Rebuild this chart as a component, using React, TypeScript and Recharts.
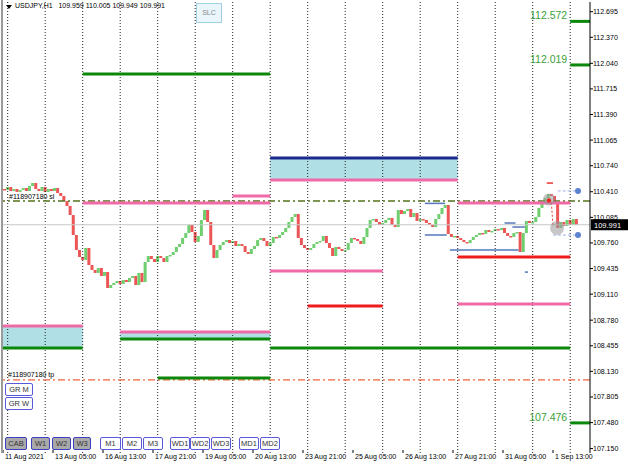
import React from "react";
import {
  ComposedChart,
  Bar,
  XAxis,
  YAxis,
  ReferenceLine,
  ReferenceArea,
  ReferenceDot,
} from "recharts";

// H1 closes, one value per 2 hourly bars
const firstOpen = 110.445;
const closes = [
  110.432, 110.47, 110.419, 110.445, 110.407, 110.432, 110.457, 110.419, 110.483, 110.521,
  110.445, 110.419, 110.47, 110.407, 110.445, 110.419, 110.457, 110.394, 110.356, 110.292,
  110.229, 110.115, 109.861, 109.671, 109.582, 109.544, 109.696, 109.48, 109.417, 109.379,
  109.442, 109.341, 109.391, 109.188, 109.226, 109.252, 109.277, 109.239, 109.29, 109.264,
  109.315, 109.341, 109.226, 109.379, 109.264, 109.518, 109.594, 109.556, 109.518, 109.594,
  109.569, 109.518, 109.594, 109.607, 109.645, 109.709, 109.747, 109.823, 109.886, 109.988,
  109.899, 109.772, 109.848, 110.051, 110.178, 110.026, 109.734, 109.569, 109.671, 109.734,
  109.772, 109.797, 109.759, 109.785, 109.721, 109.747, 109.721, 109.645, 109.62, 109.683,
  109.721, 109.797, 109.823, 109.785, 109.721, 109.759, 109.836, 109.823, 109.861, 109.899,
  109.95, 110.026, 110.089, 110.127, 109.823, 109.734, 109.696, 109.671, 109.696, 109.747,
  109.772, 109.785, 109.848, 109.759, 109.696, 109.594, 109.709, 109.683, 109.658, 109.671,
  109.759, 109.823, 109.81, 109.785, 109.747, 109.836, 109.95, 110.051, 110.064, 110.026,
  109.988, 110.013, 110.051, 110.077, 109.988, 109.962, 110.178, 110.127, 110.165, 110.191,
  110.089, 110.14, 110.039, 110.064, 110.051, 110.013, 109.988, 109.962, 110.064, 110.127,
  110.204, 110.242, 109.874, 109.836, 109.848, 109.823, 109.797, 109.772, 109.759, 109.797,
  109.836, 109.861, 109.886, 109.874, 109.924, 109.899, 109.912, 109.937, 109.924, 109.95,
  109.886, 109.848, 109.836, 109.886, 109.899, 109.645, 109.886, 110.039, 110.013, 110.026,
  110.089, 110.204, 110.254, 110.33, 110.381, 110.356, 110.267, 109.95, 110.026, 109.975,
  110.051, 109.988, 110.064, 109.991,
];

const priceTicks = [
  112.695, 112.37, 112.04, 111.715, 111.39, 111.065, 110.74, 110.41, 110.085,
  109.76, 109.435, 109.11, 108.78, 108.455, 108.13, 107.805, 107.48, 107.15,
];
const timeTicks = [0, 32, 64, 96, 128, 160, 192, 224, 256, 288, 320, 352];
const timeLabels = [
  "11 Aug 2021", "13 Aug 05:00", "16 Aug 13:00", "17 Aug 21:00", "19 Aug 05:00", "20 Aug 13:00",
  "23 Aug 21:00", "25 Aug 05:00", "26 Aug 13:00", "27 Aug 21:00", "31 Aug 05:00", "1 Sep 13:00",
];
const dayStarts = [3, 27, 51, 75, 99, 123, 147, 171, 195, 219, 243, 267, 291, 315, 339, 363];
const lastBar = 375.68;

// levels: [price, from bar, to bar]
const greenLevels = [
  [111.904, 51, 171], [108.427, 0, 51], [108.541, 75, 171], [108.427, 171, 363], [108.046, 99, 171],
];
const pinkLevels = [
  [110.559, 171, 291], [110.356, 147, 171], [110.267, 51, 171], [110.267, 291, 363],
  [109.404, 171, 243], [108.985, 291, 363], [108.706, 0, 51], [108.63, 75, 171],
];
const redLevels = [[109.582, 291, 363], [108.96, 195, 243]];
const navyLevels = [[110.838, 171, 291]];
// zones: [low, high, from, to]
const zones = [[110.559, 110.838, 171, 291], [108.427, 108.706, 0, 51], [108.541, 108.63, 75, 171]];
const targets = [112.572, 112.019, 107.476];
const slPrice = 110.292;
const tpPrice = 108.021;
const bid = 109.991;
const orderLines = [
  [110.262, 270, 283], [109.861, 270, 284], [109.671, 286, 330],
  [110.013, 321, 328], [109.962, 326, 334], [109.39, 334, 336],
];
const markers = [[368, 110.42], [368, 109.86]];
const highlights = [[349.4, 110.31, 6], [354.6, 109.95, 7]];

const candles = closes.map((c, i) => {
  const o = i === 0 ? firstOpen : closes[i - 1];
  return { bar: 1 + 2 * i, open: o, close: c, body: [Math.min(o, c), Math.max(o, c)] };
});

const FONT = "'Liberation Sans', Arial, sans-serif";

const Candle = (props: any) => {
  const { x, y, width, height, payload } = props;
  const top = height < 0 ? y + height : y;
  const h = Math.max(Math.abs(height), 1.5);
  const up = payload.close >= payload.open;
  return <rect x={x} y={top} width={width} height={h} fill={up ? "#6fcf6f" : "#ec5656"} />;
};

const TimeTick = (props: any) => {
  const { x, y, payload } = props;
  const i = timeTicks.indexOf(payload.value);
  return (
    <g>
      <line x1={x} x2={x} y1={y - 3} y2={y} stroke="#000" />
      <text x={x + 2} y={y + 6} fontSize={7} fontFamily={FONT} fill="#000">
        {timeLabels[i]}
      </text>
    </g>
  );
};

function seg(p: number, a: number, b: number): any {
  return [{ x: a, y: p }, { x: b, y: p }];
}

const btnBase: React.CSSProperties = {
  position: "absolute",
  height: 11,
  border: "1px solid #5a5ad8",
  borderRadius: 2,
  fontSize: 7.5,
  fontFamily: FONT,
  color: "#333",
  textAlign: "center",
  lineHeight: "11px",
  boxSizing: "content-box",
};

const bottomButtons: [string, number, number, boolean][] = [
  ["CAB", 5, 20, true], ["W1", 31, 17, true], ["W2", 52, 17, true], ["W3", 73, 16, true],
  ["M1", 100, 19, false], ["M2", 122, 18, false], ["M3", 143, 18, false],
  ["WD1", 170, 18, false], ["WD2", 190, 18, false], ["WD3", 211, 18, false],
  ["MD1", 239, 18, false], ["MD2", 260, 18, false],
];

export default function App() {
  return (
    <div style={{ position: "fixed", left: 0, top: 0, width: 628, height: 464, background: "#fff", overflow: "hidden" }}>
      <ComposedChart width={628} height={464} data={candles} margin={{ top: 2, right: 0, bottom: 0, left: 3 }}>
        <XAxis
          dataKey="bar"
          type="number"
          domain={[0, lastBar]}
          ticks={timeTicks}
          interval={0}
          height={11}
          axisLine={false}
          tickLine={false}
          tickSize={0}
          tickMargin={0}
          tick={<TimeTick />}
          allowDataOverflow
        />
        <YAxis
          orientation="right"
          type="number"
          domain={[107.094, 112.818]}
          ticks={priceTicks}
          interval={0}
          width={38}
          tickSize={3}
          tickMargin={0}
          stroke="#000"
          tick={{ fontSize: 7, fill: "#000", fontFamily: FONT }}
          tickFormatter={(v: number) => v.toFixed(3)}
          allowDataOverflow
        />
        {dayStarts.map((d) => (
          <ReferenceLine key={"d" + d} x={d} stroke="#222" strokeDasharray="1 2" />
        ))}
        {zones.map(([lo, hi, a, b], i) => (
          <ReferenceArea key={"z" + i} x1={a} x2={b} y1={lo} y2={hi} fill="#b0e0e6" fillOpacity={1} stroke="none" />
        ))}
        <ReferenceLine
          y={bid}
          stroke="#c8c8c8"
          label={({ viewBox }: any) => (
            <g>
              <rect x={viewBox.x + viewBox.width + 1} y={viewBox.y - 5.5} width={37} height={11} fill="#000" />
              <text x={viewBox.x + viewBox.width + 4} y={viewBox.y + 3} fontSize={7.5} fill="#fff" fontFamily={FONT}>
                {bid.toFixed(3)}
              </text>
            </g>
          )}
        />
        <ReferenceLine
          y={slPrice}
          stroke="#56731c"
          strokeWidth={1.6}
          strokeDasharray="7 3 2 3"
          label={({ viewBox }: any) => (
            <text x={viewBox.x + 6} y={viewBox.y - 2} fontSize={7} fill="#000" fontFamily={FONT}>
              #118907180 sl
            </text>
          )}
        />
        <ReferenceLine
          y={tpPrice}
          stroke="#f0643c"
          strokeWidth={1.2}
          strokeDasharray="7 3 2 3"
          label={({ viewBox }: any) => (
            <text x={viewBox.x + 5} y={viewBox.y - 3} fontSize={7} fill="#000" fontFamily={FONT}>
              #118907180 tp
            </text>
          )}
        />
        {greenLevels.map(([p, a, b], i) => (
          <ReferenceLine key={"g" + i} segment={seg(p, a, b)} stroke="#0b880b" strokeWidth={3} />
        ))}
        {pinkLevels.map(([p, a, b], i) => (
          <ReferenceLine key={"p" + i} segment={seg(p, a, b)} stroke="#f06aa8" strokeWidth={3} />
        ))}
        {redLevels.map(([p, a, b], i) => (
          <ReferenceLine key={"r" + i} segment={seg(p, a, b)} stroke="#ee1c1c" strokeWidth={3} />
        ))}
        {navyLevels.map(([p, a, b], i) => (
          <ReferenceLine key={"n" + i} segment={seg(p, a, b)} stroke="#1c2a8c" strokeWidth={3} />
        ))}
        {targets.map((p) => (
          <ReferenceLine
            key={"t" + p}
            segment={seg(p, 363, lastBar)}
            stroke="#0b880b"
            strokeWidth={3}
            label={({ viewBox }: any) => (
              <text x={viewBox.x - 3} y={viewBox.y - 2} textAnchor="end" fontSize={10.5} fill="#3a9f3a" fontFamily={FONT}>
                {p.toFixed(3)}
              </text>
            )}
          />
        ))}
        {orderLines.map(([p, a, b], i) => (
          <ReferenceLine key={"o" + i} segment={seg(p, a, b)} stroke="#5577bb" strokeWidth={1.5} />
        ))}
        <ReferenceLine segment={seg(110.42, 355, 366)} stroke="#9fb0e4" strokeDasharray="3 2" />
        <ReferenceLine segment={seg(109.86, 352, 366)} stroke="#9fb0e4" strokeDasharray="3 2" />
        <ReferenceLine segment={seg(110.52, 348, 352)} stroke="#ee3333" strokeWidth={1.5} />
        <ReferenceLine segment={[{ x: 351, y: 110.27 }, { x: 352, y: 109.96 }]} stroke="#ee3333" strokeDasharray="2 2" />
        <Bar dataKey="body" barSize={3} shape={<Candle />} isAnimationActive={false} />
        {highlights.map(([b, p, r], i) => (
          <ReferenceDot key={"h" + i} x={b} y={p} r={r} fill="#999" fillOpacity={0.55} stroke="none" />
        ))}
        <ReferenceDot x={349.4} y={110.3} r={2.2} fill="#ee2222" stroke="none" />
        {markers.map(([b, p], i) => (
          <ReferenceDot key={"m" + i} x={b} y={p} r={3} fill="#5a82d0" stroke="none" />
        ))}
      </ComposedChart>

      {/* left chart border */}
      <div style={{ position: "absolute", left: 1, top: 0, width: 2, height: 453, background: "#9a9a9a" }} />

      {/* header */}
      <div style={{ position: "absolute", left: 6, top: 5, width: 0, height: 0, borderLeft: "3px solid transparent", borderRight: "3px solid transparent", borderTop: "4px solid #000" }} />
      <div style={{ position: "absolute", left: 15, top: 2, fontSize: 7, fontFamily: FONT, whiteSpace: "pre", color: "#000" }}>
        {"USDJPY,H1   109.959 110.005 109.949 109.991"}
      </div>
      <div style={{ position: "absolute", left: 196, top: 3, width: 24, height: 18, border: "1px solid #9fd0e6", background: "#eaf6fb", fontSize: 7, fontFamily: FONT, color: "#888", textAlign: "center", lineHeight: "18px" }}>
        SLC
      </div>

      <div style={{ ...btnBase, left: 5, top: 383, width: 26, background: "#fff" }}>GR M</div>
      <div style={{ ...btnBase, left: 5, top: 397, width: 26, background: "#fff" }}>GR W</div>

      {bottomButtons.map(([t, x, w, filled]) => (
        <div key={t} style={{ ...btnBase, left: x, top: 437, width: w, background: filled ? "#a9a9a9" : "#fff", borderColor: filled ? "#3e3ec0" : "#5a5ad8" }}>
          {t}
        </div>
      ))}
    </div>
  );
}
